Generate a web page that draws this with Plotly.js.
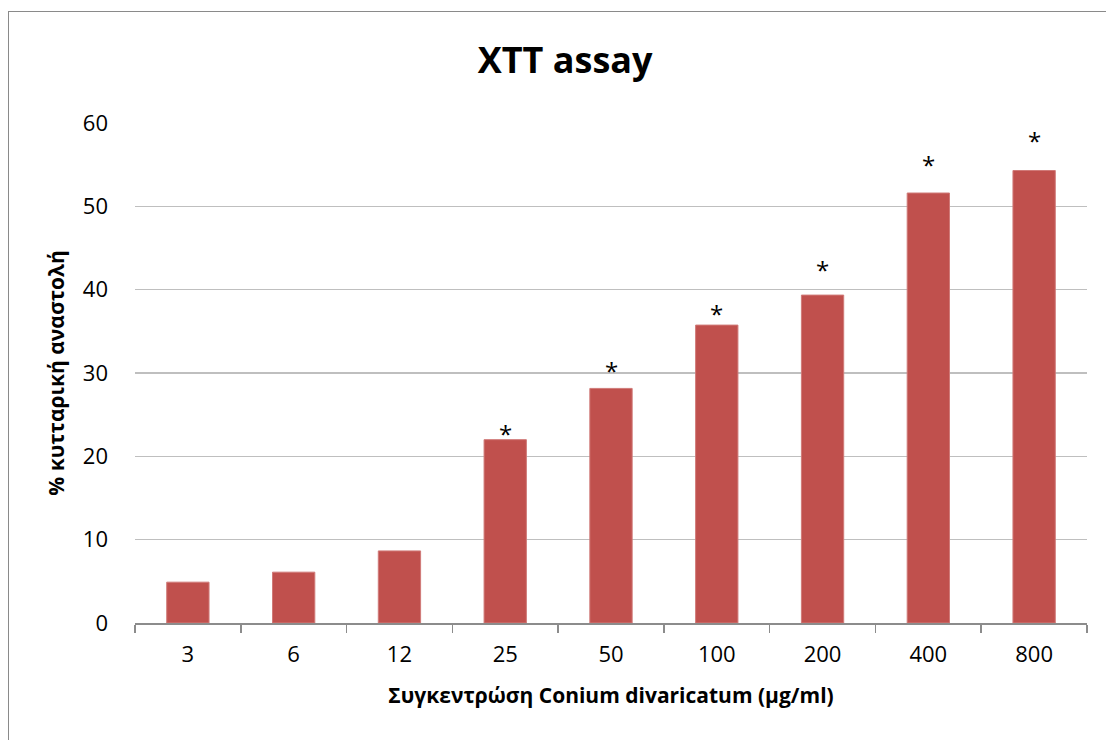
<!DOCTYPE html>
<html>
<head>
<meta charset="utf-8">
<script src="https://cdn.plot.ly/plotly-3.0.1.min.js"></script>
<style>
  html, body { margin: 0; padding: 0; background: #fff; overflow: hidden; }
  #wrap { position: relative; width: 1106px; height: 740px; overflow: hidden; }
  #chart { width: 1106px; height: 740px; }
  #frame { position: absolute; left: 8px; top: 11px; width: 1200px; height: 800px;
           border-left: 1.5px solid #8a8a8a; border-top: 1.5px solid #8a8a8a; pointer-events: none; }
</style>
</head>
<body>
<div id="wrap">
  <div id="chart"></div>
  <div id="frame"></div>
</div>
<script>
const categories = ["3", "6", "12", "25", "50", "100", "200", "400", "800"];
const inhibition = [4.9, 6.1, 8.65, 22.0, 28.15, 35.75, 39.35, 51.6, 54.3];
const significant = [false, false, false, true, true, true, true, true, true];
const starLevel = [null, null, null, 23.5, 31.0, 37.9, 43.2, 55.8, 58.6];

const FONT = "'Open Sans', 'Noto Sans', sans-serif";

const annotations = [];
categories.forEach((c, i) => {
  if (significant[i]) {
    annotations.push({
      x: i, y: starLevel[i], xref: 'x', yref: 'y',
      text: '*', showarrow: false, yanchor: 'middle', yshift: -6,
      font: { family: FONT, size: 24, color: '#000' }
    });
  }
});

const data = [{
  type: 'bar',
  x: categories,
  y: inhibition,
  marker: { color: '#c0504d', line: { color: '#d07a78', width: 1 } },
  hoverinfo: 'x+y'
}];

const layout = {
  width: 1106, height: 740,
  margin: { l: 135, r: 19, t: 123, b: 117 },
  paper_bgcolor: '#fff', plot_bgcolor: '#fff',
  bargap: 0.6,
  showlegend: false,
  title: {
    text: '<b>XTT assay</b>',
    font: { family: FONT, size: 36, color: '#000' },
    x: 0.511, xref: 'container', xanchor: 'center',
    y: 0.918, yref: 'container', yanchor: 'middle'
  },
  xaxis: {
    type: 'category',
    range: [-0.5, 8.5],
    tickfont: { family: FONT, size: 22, color: '#000' },
    showline: true, linecolor: '#8c8c8c', linewidth: 1.5,
    ticks: 'outside', tickson: 'boundaries', ticklen: 8, tickcolor: '#8c8c8c', tickwidth: 1.5,
    ticklabelstandoff: 11,
    showgrid: false,
    title: { text: '<b>Συγκεντρώση Conium divaricatum (μg/ml)</b>',
             font: { family: FONT, size: 21, color: '#000' }, standoff: 21 }
  },
  yaxis: {
    range: [0, 60], dtick: 10,
    tickfont: { family: FONT, size: 22, color: '#000' },
    showgrid: true, gridcolor: '#bfbfbf', gridwidth: 1.5,
    zeroline: false, showline: false, ticks: '',
    ticklabelstandoff: 26,
    title: { text: '<b>% κυτταρική αναστολή</b>',
             font: { family: FONT, size: 21, color: '#000' }, standoff: 12 }
  },
  annotations: annotations
};

Plotly.newPlot('chart', data, layout, { displayModeBar: false, staticPlot: true });
</script>
</body>
</html>
